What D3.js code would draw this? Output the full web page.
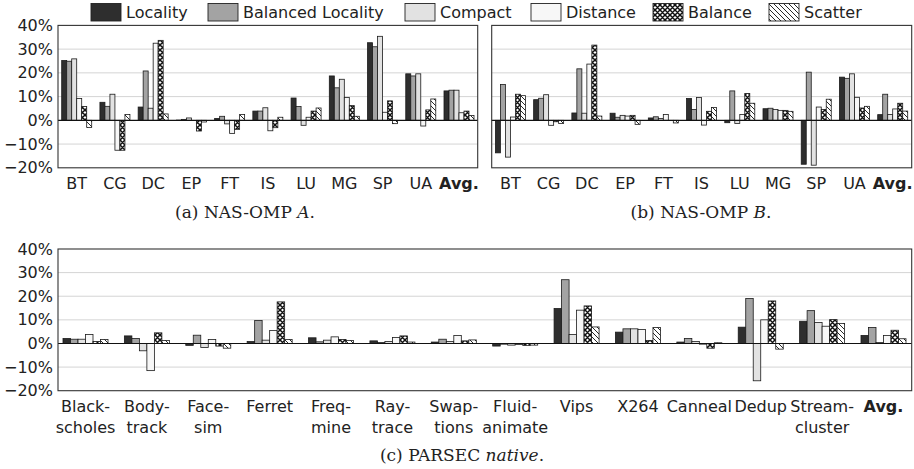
<!DOCTYPE html>
<html><head><meta charset="utf-8">
<script src="https://cdn.jsdelivr.net/npm/d3@7"></script>
<style>
body{margin:0;background:#fff;}
svg{display:block;}
text{font-family:"DejaVu Sans",sans-serif;fill:#222;}
.cap{font-family:"DejaVu Serif",serif;}
</style></head>
<body><svg id="c" width="914" height="469"></svg>
<script>
// ---------- data ----------
const seriesNames = ["Locality","Balanced Locality","Compact","Distance","Balance","Scatter"];
const nasCategories = ["BT","CG","DC","EP","FT","IS","LU","MG","SP","UA","Avg."];
const parsecCategories = ["Black-|scholes","Body-|track","Face-|sim","Ferret","Freq-|mine","Ray-|trace","Swap-|tions","Fluid-|animate","Vips","X264","Canneal","Dedup","Stream-|cluster","Avg."];
const yTicks = [-20,-10,0,10,20,30,40];

// NAS-OMP A (percent)
const nasA_locality  = [25.2, 7.6, 5.6, 0.1, 0.8, 3.9, 9.4, 18.7, 32.7, 19.6, 12.4];
const nasA_balLoc    = [24.9, 5.9, 20.8, 0.4, 1.7, 3.9, 5.8, 13.7, 31.0, 18.7, 12.7];
const nasA_compact   = [25.9, 11.0, 5.1, 1.0, -1.5, 5.3, -2.1, 17.3, 35.4, 19.6, 12.7];
const nasA_distance  = [9.2, -12.6, 32.5, 0.0, -5.5, -4.4, 1.3, 9.6, 3.4, -2.4, 3.2];
const nasA_balance   = [5.8, -12.6, 33.7, -4.5, -3.8, -3.1, 3.9, 6.2, 8.2, 4.4, 3.9];
const nasA_scatter   = [-3.0, 2.5, 2.7, -0.7, 2.5, 1.3, 5.2, 1.7, -1.4, 9.0, 2.0];

// NAS-OMP B (percent)
const nasB_locality  = [-13.7, 8.7, 3.1, 3.0, 1.0, 9.2, -1.0, 4.9, -18.5, 18.2, 2.4];
const nasB_balLoc    = [15.1, 9.3, 21.7, 1.3, 1.5, 4.6, 12.4, 5.1, 20.3, 17.7, 11.0];
const nasB_compact   = [-15.5, 10.8, 3.0, 2.1, 0.8, 9.6, -1.3, 4.6, -18.9, 19.6, 2.5];
const nasB_distance  = [1.4, -2.1, 23.7, 1.8, 2.5, -2.0, 2.5, 4.2, 5.6, 9.7, 4.8];
const nasB_balance   = [11.0, -0.6, 31.7, 2.1, -0.1, 3.8, 11.3, 4.2, 4.6, 5.2, 7.2];
const nasB_scatter   = [10.4, -1.3, 1.8, -1.7, -1.1, 5.4, 7.2, 3.8, 8.9, 5.9, 3.9];

// PARSEC native (percent)
const parsec_locality = [2.1, 3.2, -0.8, 0.8, 2.4, 1.1, 0.6, -1.1, 14.8, 4.8, 0.6, 6.9, 9.4, 3.4];
const parsec_balLoc   = [1.8, 2.1, 3.5, 9.7, 0.7, 0.4, 1.8, -0.3, 27.0, 6.2, 2.1, 19.0, 13.9, 6.8];
const parsec_compact  = [1.8, -3.1, -1.7, 1.4, 1.4, 0.8, 0.8, -0.7, 3.8, 6.2, 0.8, -15.8, 8.9, 0.4];
const parsec_distance = [3.8, -11.5, 1.7, 5.5, 2.8, 2.5, 3.4, -0.4, 14.1, 5.9, -0.3, 10.0, 7.3, 3.4];
const parsec_balance  = [0.8, 4.5, -1.1, 17.6, 1.7, 3.2, 1.1, -0.8, 15.9, 1.3, -2.0, 18.0, 10.1, 5.6];
const parsec_scatter  = [1.7, 1.3, -2.0, 1.7, 1.3, 0.6, 1.5, -0.7, 7.0, 6.8, 0.3, -2.4, 8.5, 2.0];

// ---------- drawing ----------
const svg = d3.select("#c");
const defs = svg.append("defs");
// crosshatch pattern (Balance)
const P = 5;
const ch = defs.append("pattern").attr("id","pCross").attr("patternUnits","userSpaceOnUse")
  .attr("width",P).attr("height",P);
ch.append("rect").attr("width",P).attr("height",P).attr("fill","#fff");
ch.append("path").attr("d",`M0,0L${P},${P}M${P},0L0,${P}M-1,1L1,-1M${P-1},${P+1}L${P+1},${P-1}M-1,${P-1}L1,${P+1}M${P-1},-1L${P+1},1`)
  .attr("stroke","#111").attr("stroke-width",1.5);
// north-west lines (Scatter)
const nw = defs.append("pattern").attr("id","pNW").attr("patternUnits","userSpaceOnUse")
  .attr("width",5).attr("height",5);
nw.append("rect").attr("width",5).attr("height",5).attr("fill","#fff");
nw.append("path").attr("d","M0,0L5,5M-1,4L1,6M4,-1L6,1").attr("stroke","#111").attr("stroke-width",0.9);

const fills = ["#2e2e2e","#a3a3a3","#e2e2e2","#f7f7f7","url(#pCross)","url(#pNW)"];

function panel(opt){
  const g = svg.append("g");
  const y = d3.scaleLinear().domain([-20,40]).range([opt.y1, opt.y0]);
  const x = d3.scaleLinear().domain([0, opt.cats.length-1]).range([opt.c0, opt.c1]);
  // grid
  g.selectAll(".grid").data(yTicks.filter(t=>t!==0 && t!==40 && t!==-20)).join("line")
    .attr("x1",opt.x0).attr("x2",opt.x1).attr("y1",d=>y(d)).attr("y2",d=>y(d))
    .attr("stroke","#d4d4d4").attr("stroke-width",1);
  // bars
  const bw = opt.bw;
  opt.series.forEach((vals,j)=>{
    g.append("g").selectAll("rect").data(vals).join("rect")
      .attr("x",(d,i)=>x(i) - 3*bw + j*bw)
      .attr("width",bw)
      .attr("y",d=>y(Math.max(0,d)))
      .attr("height",d=>Math.abs(y(d)-y(0)))
      .attr("fill",fills[j]).attr("stroke","#1a1a1a").attr("stroke-width",0.8);
  });
  // zero line
  g.append("line").attr("x1",opt.x0).attr("x2",opt.x1).attr("y1",y(0)).attr("y2",y(0))
    .attr("stroke","#111").attr("stroke-width",1.1);
  // frame
  g.append("rect").attr("x",opt.x0).attr("y",opt.y0).attr("width",opt.x1-opt.x0).attr("height",opt.y1-opt.y0)
    .attr("fill","none").attr("stroke","#333").attr("stroke-width",1.1);
  // y axis
  if(opt.yLabels){
    const ax = d3.axisLeft(y).tickValues(yTicks).tickSize(0).tickPadding(5)
      .tickFormat(d=> (d<0? "\u2212"+(-d) : d) + "%");
    const ag = g.append("g").attr("transform",`translate(${opt.x0},0)`).call(ax);
    ag.select(".domain").remove();
    ag.selectAll("text").attr("font-size",16).attr("font-family","DejaVu Sans").attr("fill","#222");
  }
  // x labels
  const xl = g.append("g");
  opt.cats.forEach((c,i)=>{
    const parts = c.split("|");
    const t = xl.append("text").attr("x",x(i)).attr("y",opt.labelY)
      .attr("text-anchor","middle").attr("font-size",16)
      .attr("font-weight", c==="Avg." ? "bold" : "normal");
    parts.forEach((p,k)=>t.append("tspan").attr("x",x(i)).attr("dy",k===0?0:21).text(p));
  });
  // caption
  const cap = svg.append("text").attr("class","cap").attr("x",opt.capX).attr("y",opt.capY)
    .attr("text-anchor","middle").attr("font-size",17);
  cap.append("tspan").text(opt.capText);
  cap.append("tspan").attr("font-style","italic").text(opt.capItal);
  cap.append("tspan").text(".");
}

panel({cats:nasCategories, series:[nasA_locality,nasA_balLoc,nasA_compact,nasA_distance,nasA_balance,nasA_scatter],
  x0:58, x1:477.7, y0:25.4, y1:167.8, c0:76.7, c1:459, bw:5, yLabels:true, labelY:189,
  capX:245, capY:218, capText:"(a) NAS-OMP ", capItal:"A"});
panel({cats:nasCategories, series:[nasB_locality,nasB_balLoc,nasB_compact,nasB_distance,nasB_balance,nasB_scatter],
  x0:491.7, x1:911.7, y0:25.4, y1:167.8, c0:510.4, c1:892.7, bw:5, yLabels:false, labelY:189,
  capX:701, capY:218, capText:"(b) NAS-OMP ", capItal:"B"});
panel({cats:parsecCategories, series:[parsec_locality,parsec_balLoc,parsec_compact,parsec_distance,parsec_balance,parsec_scatter],
  x0:58, x1:911.7, y0:249, y1:390.7, c0:85.5, c1:883.5, bw:7.5, yLabels:true, labelY:412,
  capX:462, capY:461, capText:"(c) PARSEC ", capItal:"native"});

// legend
const legX = [91,208,405,531,653,769];
const lg = svg.append("g");
seriesNames.forEach((n,j)=>{
  lg.append("rect").attr("x",legX[j]).attr("y",3.5).attr("width",30).attr("height",17.5)
    .attr("fill",fills[j]).attr("stroke","#222").attr("stroke-width",0.9);
  lg.append("text").attr("x",legX[j]+35).attr("y",18).attr("font-size",16).text(n);
});
</script></body></html>
